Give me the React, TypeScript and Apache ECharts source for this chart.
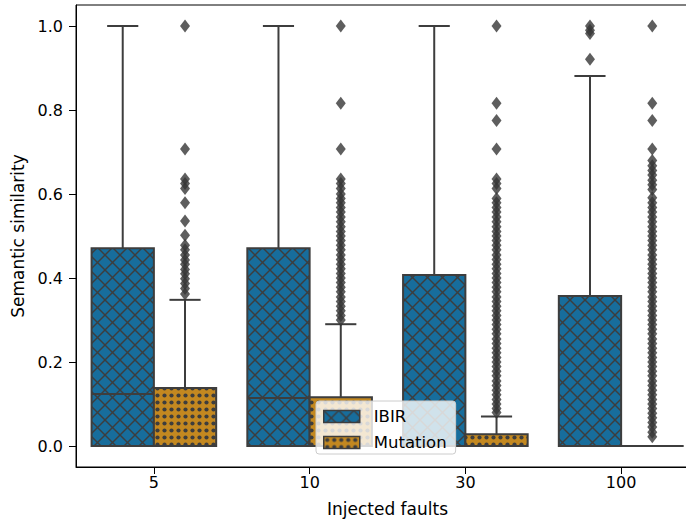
import React, { useEffect, useRef } from 'react';
import * as echarts from 'echarts';

const categories = ['5', '10', '30', '100'];
const hueNames = ['IBIR', 'Mutation'];

// Box statistics per category: [whiskerLow, q1, median, q3, whiskerHigh]
const ibirStats = [
  [0, 0, 0.124, 0.471, 1.0],
  [0, 0, 0.114, 0.471, 1.0],
  [0, 0, 0, 0.407, 1.0],
  [0, 0, 0, 0.357, 0.881],
];
const mutationStats = [
  [0, 0, 0, 0.138, 0.348],
  [0, 0, 0, 0.116, 0.29],
  [0, 0, 0, 0.028, 0.07],
  [0, 0, 0, 0, 0],
];

// Outliers per category
const ibirOutliers = [[], [], [], [1.0, 0.99, 0.982, 0.921]];
const mutationOutliers = [
  [1.0, 0.707, 0.636, 0.625, 0.613, 0.579, 0.536, 0.502, 0.478, 0.467, 0.455, 0.443, 0.433, 0.42, 0.41, 0.398, 0.387, 0.375, 0.362],
  [1.0, 0.816, 0.707, 0.636, 0.625, 0.613, 0.6, 0.589, 0.579, 0.568, 0.557, 0.545, 0.534, 0.522, 0.511, 0.5, 0.489, 0.478, 0.467, 0.455, 0.444, 0.433, 0.422, 0.411, 0.4, 0.389, 0.378, 0.367, 0.355, 0.344, 0.333, 0.322, 0.311, 0.3],
  [1.0, 0.816, 0.775, 0.707, 0.636, 0.625, 0.613, 0.589, 0.579, 0.568, 0.557, 0.545, 0.534, 0.522, 0.511, 0.5, 0.489, 0.478, 0.467, 0.455, 0.444, 0.433, 0.422, 0.411, 0.4, 0.389, 0.378, 0.367, 0.355, 0.344, 0.333, 0.322, 0.311, 0.3, 0.289, 0.278, 0.267, 0.255, 0.244, 0.233, 0.222, 0.211, 0.2, 0.189, 0.178, 0.167, 0.155, 0.144, 0.133, 0.122, 0.111, 0.1, 0.089, 0.08],
  [1.0, 0.816, 0.775, 0.707, 0.68, 0.667, 0.656, 0.645, 0.633, 0.622, 0.611, 0.591, 0.579, 0.568, 0.557, 0.545, 0.534, 0.522, 0.511, 0.5, 0.489, 0.478, 0.467, 0.455, 0.444, 0.433, 0.422, 0.411, 0.4, 0.389, 0.378, 0.367, 0.355, 0.344, 0.333, 0.322, 0.311, 0.3, 0.289, 0.278, 0.267, 0.255, 0.244, 0.233, 0.222, 0.211, 0.2, 0.189, 0.178, 0.167, 0.155, 0.144, 0.133, 0.122, 0.111, 0.1, 0.089, 0.078, 0.067, 0.056, 0.045, 0.033, 0.022],
];

const yTicks = [0, 0.2, 0.4, 0.6, 0.8, 1.0];

const BLUE = '#176d9c';
const ORANGE = '#c38820';
const EDGE = '#3d3d3d';
const FONT = 'DejaVu Sans';

function crossPattern() {
  const P = 15;
  const c = document.createElement('canvas');
  c.width = P;
  c.height = P;
  const ctx = c.getContext('2d')!;
  ctx.fillStyle = BLUE;
  ctx.fillRect(0, 0, P, P);
  ctx.strokeStyle = EDGE;
  ctx.lineWidth = 1.4;
  for (let k = -1; k <= 1; k++) {
    ctx.beginPath();
    ctx.moveTo(k * P - 2, -2);
    ctx.lineTo(k * P + P + 2, P + 2);
    ctx.stroke();
    ctx.beginPath();
    ctx.moveTo(k * P - 2, P + 2);
    ctx.lineTo(k * P + P + 2, -2);
    ctx.stroke();
  }
  return { image: c, repeat: 'repeat' };
}

function dotPattern() {
  const P = 7;
  const c = document.createElement('canvas');
  c.width = P;
  c.height = P;
  const ctx = c.getContext('2d')!;
  ctx.fillStyle = ORANGE;
  ctx.fillRect(0, 0, P, P);
  ctx.fillStyle = EDGE;
  ctx.beginPath();
  ctx.arc(P / 2, P / 2, 2.1, 0, Math.PI * 2);
  ctx.fill();
  return { image: c, repeat: 'repeat' };
}

function makeRender(offset: number, fill: any) {
  return (params: any, api: any) => {
    const i = api.value(0);
    const lo = api.value(1);
    const q1 = api.value(2);
    const med = api.value(3);
    const q3 = api.value(4);
    const hi = api.value(5);
    const w = api.size([0.4, 0])[0];
    const cx = api.coord([i + offset, 0])[0];
    const y = (v: number) => api.coord([i + offset, v])[1];
    const lw = 2;
    const st = { stroke: EDGE, lineWidth: lw, fill: null };
    return {
      type: 'group',
      children: [
        { type: 'line', shape: { x1: cx, y1: y(q3), x2: cx, y2: y(hi) }, style: st },
        { type: 'line', shape: { x1: cx, y1: y(q1), x2: cx, y2: y(lo) }, style: st },
        { type: 'line', shape: { x1: cx - w / 4, y1: y(hi), x2: cx + w / 4, y2: y(hi) }, style: st },
        { type: 'line', shape: { x1: cx - w / 4, y1: y(lo), x2: cx + w / 4, y2: y(lo) }, style: st },
        {
          type: 'rect',
          shape: { x: cx - w / 2, y: y(q3), width: w, height: y(q1) - y(q3) },
          style: { fill, stroke: EDGE, lineWidth: lw },
        },
        { type: 'line', shape: { x1: cx - w / 2, y1: y(med), x2: cx + w / 2, y2: y(med) }, style: st },
      ],
    };
  };
}

export default function App() {
  const ref = useRef<HTMLDivElement>(null);
  useEffect(() => {
    if (!ref.current) return;
    const chart = echarts.init(ref.current, undefined, { renderer: 'svg' });
    const cross = crossPattern();
    const dots = dotPattern();
    const offsets = [-0.2, 0.2];
    const statsList = [ibirStats, mutationStats];
    const outlierList = [ibirOutliers, mutationOutliers];
    const fills = [cross, dots];

    const boxSeries = hueNames.map((name, h) => ({
      type: 'custom',
      name,
      xAxisIndex: 1,
      yAxisIndex: 0,
      renderItem: makeRender(offsets[h], fills[h]),
      data: statsList[h].map((s, i) => [i, ...s]),
      encode: { x: 0, y: [1, 2, 3, 4, 5] },
      clip: false,
      z: 2,
    }));
    const flierSeries = hueNames.map((name, h) => ({
      type: 'scatter',
      name: name + ' outliers',
      xAxisIndex: 1,
      yAxisIndex: 0,
      symbol: 'diamond',
      symbolSize: [10, 13],
      itemStyle: { color: '#363636' },
      data: outlierList[h].flatMap((arr, i) => arr.map((v) => [i + offsets[h], v])),
      z: 3,
    }));

    chart.setOption({
      animation: false,
      textStyle: { fontFamily: FONT },
      grid: {
        left: 76,
        top: 5,
        width: 623,
        height: 462,
        outerBoundsMode: 'none',
        containLabel: false,
        show: true,
        borderColor: '#000',
        borderWidth: 1,
      },
      legend: {
        data: [
          { name: 'IBIR', icon: 'rect', itemStyle: { color: cross, borderColor: EDGE, borderWidth: 1.5 } },
          { name: 'Mutation', icon: 'rect', itemStyle: { color: dots, borderColor: EDGE, borderWidth: 1.5 } },
        ],
        orient: 'vertical',
        left: 316,
        top: 401,
        padding: [7, 9, 3, 7],
        itemWidth: 36,
        itemHeight: 12,
        itemGap: 9,
        selectedMode: false,
        backgroundColor: 'rgba(255,255,255,0.8)',
        borderColor: '#cccccc',
        borderWidth: 1,
        borderRadius: 3,
        textStyle: { fontSize: 16.5, color: '#000', fontFamily: FONT, padding: [0, 0, 0, 9] },
        z: 10,
      },
      xAxis: [
        {
          type: 'category',
          data: categories,
          boundaryGap: true,
          axisLine: { show: true, onZero: false, lineStyle: { color: '#000', width: 1 } },
          axisTick: { show: true, alignWithLabel: true, length: 7, lineStyle: { color: '#000' } },
          axisLabel: { fontSize: 16, color: '#000', margin: 7, fontFamily: FONT },
          splitLine: { show: false },
          name: 'Injected faults',
          nameLocation: 'middle',
          nameGap: 33,
          nameTextStyle: { fontSize: 17, color: '#000', fontFamily: FONT },
        },
        { type: 'value', min: -0.5, max: 3.5, show: false },
      ],
      yAxis: {
        type: 'value',
        min: -0.05,
        max: 1.05,
        axisLine: { show: true, onZero: false, lineStyle: { color: '#000', width: 1 } },
        axisTick: { show: true, length: 7, lineStyle: { color: '#000' }, customValues: yTicks },
        axisLabel: {
          fontSize: 16,
          color: '#000',
          margin: 13,
          fontFamily: FONT,
          customValues: yTicks,
          formatter: (v: number) => v.toFixed(1),
        },
        splitLine: { show: false },
        name: 'Semantic similarity',
        nameLocation: 'middle',
        nameGap: 47,
        nameTextStyle: { fontSize: 17, color: '#000', fontFamily: FONT },
      },
      series: [...boxSeries, ...flierSeries],
    });
    return () => chart.dispose();
  }, []);
  return <div ref={ref} style={{ position: 'absolute', left: 0, top: 0, width: 686, height: 525 }} />;
}
